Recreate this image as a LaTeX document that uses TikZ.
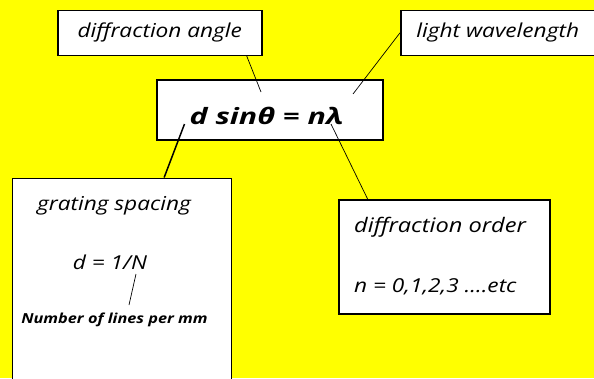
\documentclass[tikz,border=0pt]{standalone}
\usepackage{fontspec}
\setmainfont{Open Sans}[FakeStretch=1.18]
\newfontfamily\eqfont{Open Sans}[FakeStretch=1.35]
\usetikzlibrary{positioning}
\definecolor{bgyellow}{RGB}{255,255,0}

\begin{document}
\begin{tikzpicture}[
    x=1pt,
    y=-1pt,
    box/.style={draw, line width=1.6pt, fill=white, inner sep=0pt, anchor=north west},
    note/.style={font=\fontsize{19.2}{21}\selectfont\itshape, inner sep=0pt},
    pointer/.style={line width=0.7pt}
]
% Background
\useasboundingbox (0,0) rectangle (594,378);
\fill[bgyellow] (0,0) rectangle (594,378);
\clip (0,0) rectangle (594,378);
% Top labels
\node[box, note, minimum width=204, minimum height=45] (angle) at (57,9.5) {diffraction angle};
\node[box, note, minimum width=194, minimum height=45] (wavelength) at (400,9.5) {light wavelength};
% Formula
\node[box, minimum width=226, minimum height=60] (formula) at (156,79) {};
\node[note, font=\eqfont\fontsize{22.5}{24}\selectfont\bfseries\itshape, anchor=base] (eq) at (266.5,124) {d sinθ = nλ};
\coordinate (theta) at (261,92);
\coordinate (lambda) at (353,94);
\coordinate (dleg) at (184.5,124);
\coordinate (nfoot) at (331,124);
% Grating spacing
\node[box, minimum width=219, minimum height=230] (spacing) at (11.7,177.5) {};
\node[note, anchor=base] (spacingtitle) at (114,210) {grating spacing};
\node[note, anchor=base] (ratio) at (110,269) {d = 1/N};
\node[note, font=\fontsize{13.8}{15}\selectfont\bfseries\itshape, anchor=base] (lines) at (114.5,323) {Number of lines per mm};
\coordinate (Ntop) at (136,274);
\coordinate (Nfoot) at (129,305);
% Diffraction order
\node[box, minimum width=211, minimum height=114] (order) at (338,199) {};
\node[note, font=\fontsize{20}{22}\selectfont\itshape, anchor=base west] (ordertitle) at (354,232) {diffraction order};
\node[note, anchor=base west] (values) at (354,292) {n = 0,1,2,3 ….etc};
% Pointers
\draw[pointer] (angle.-15.5) -- (theta);
\draw[pointer] (wavelength.west) -- (lambda);
\draw[pointer, line width=1.5pt] (dleg) -- (spacing.70.7);
\draw[pointer] (nfoot) -- (order.143.3);
\draw[pointer] (Ntop) -- (Nfoot);
\end{tikzpicture}
\end{document}
